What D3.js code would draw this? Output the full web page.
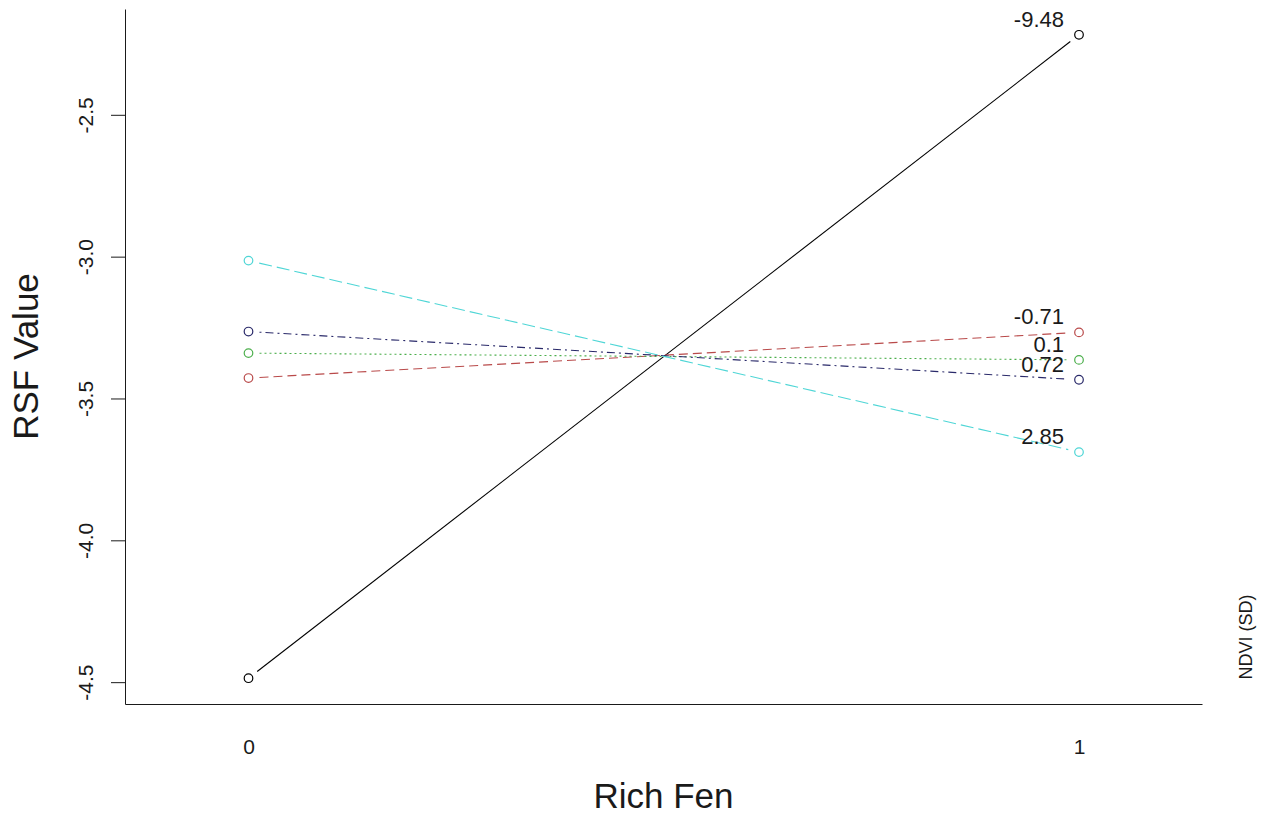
<!DOCTYPE html>
<html><head><meta charset="utf-8">
<script src="https://cdn.jsdelivr.net/npm/d3@7"></script>
<style>
html,body{margin:0;padding:0;background:#fff;}
svg{display:block;font-family:"Liberation Sans",Arial,sans-serif;}
</style></head>
<body><svg id="chart" width="1268" height="817"></svg>
<script>
// ---- data ----
const richFen = [0, 1];
const yTicks = [-4.5, -4.0, -3.5, -3.0, -2.5];
const ndviLevels = ["-9.48", "-0.71", "0.1", "0.72", "2.85"];
const rsfNdviM948 = [-4.486, -2.218];
const rsfNdviM071 = [-3.428, -3.267];
const rsfNdvi01   = [-3.340, -3.364];
const rsfNdvi072  = [-3.264, -3.434];
const rsfNdvi285  = [-3.014, -3.689];
const seriesValues = [rsfNdviM948, rsfNdviM071, rsfNdvi01, rsfNdvi072, rsfNdvi285];
const seriesColors = ["#000000", "#b94a4a", "#4caf4c", "#2a2a6a", "#4fd6d6"];
const seriesDash = [null, "9,5", "2,3", "2,4,8,4", "13,5"];

// ---- layout ----
const svg = d3.select("#chart");
const L = 125, R = 1202, T = 9, B = 704;
const x = d3.scaleLinear().domain([-0.1487, 1.1481]).range([L, R]);
const y = d3.scaleLinear().domain([-4.577, -2.127]).range([B, T]);
const ink = "#1a1a1a";

// y axis
const gy = svg.append("g").attr("transform", `translate(${L},0)`)
  .call(d3.axisLeft(y).tickValues(yTicks).tickSize(14).tickSizeOuter(0)
    .tickFormat(d => d.toFixed(1)));
gy.select(".domain").attr("stroke", ink);
gy.selectAll(".tick line").attr("stroke", ink);
gy.selectAll(".tick text")
  .attr("x", null).attr("dy", null)
  .attr("transform", "translate(-32,0) rotate(-90)")
  .attr("text-anchor", "middle")
  .attr("fill", ink)
  .style("font-size", "21px");

// x axis
const gx = svg.append("g").attr("transform", `translate(0,${B})`)
  .call(d3.axisBottom(x).tickValues(richFen).tickSize(0).tickSizeOuter(0)
    .tickFormat(d => String(d)));
gx.select(".domain").attr("stroke", ink);
gx.selectAll(".tick text")
  .attr("y", 50).attr("dy", null)
  .attr("fill", ink)
  .style("font-size", "21px");

// lines with gaps around points (type = "b")
const gap = 11;
seriesValues.forEach((vals, i) => {
  const pts = richFen.map((f, j) => [x(f), y(vals[j])]);
  for (let j = 0; j < pts.length - 1; j++) {
    const [x0, y0] = pts[j], [x1, y1] = pts[j + 1];
    const len = Math.hypot(x1 - x0, y1 - y0);
    const ux = (x1 - x0) / len, uy = (y1 - y0) / len;
    svg.append("line")
      .attr("x1", x0 + ux * gap).attr("y1", y0 + uy * gap)
      .attr("x2", x1 - ux * gap).attr("y2", y1 - uy * gap)
      .attr("stroke", seriesColors[i]).attr("stroke-width", 1.1)
      .attr("stroke-dasharray", seriesDash[i]);
  }
  svg.selectAll(null).data(pts).enter().append("circle")
    .attr("cx", d => d[0]).attr("cy", d => d[1]).attr("r", 4.3)
    .attr("fill", "none").attr("stroke", seriesColors[i]).attr("stroke-width", 1.2);
  // level label near right end
  svg.append("text")
    .attr("x", x(1) - 15).attr("y", y(vals[1]) - 8)
    .attr("text-anchor", "end").attr("fill", ink)
    .style("font-size", "22px")
    .text(ndviLevels[i]);
});

// titles
svg.append("text").attr("transform", `translate(38,${(T + B) / 2}) rotate(-90)`)
  .attr("text-anchor", "middle").attr("fill", ink).style("font-size", "35px").text("RSF Value");
svg.append("text").attr("x", (L + R) / 2).attr("y", 808)
  .attr("text-anchor", "middle").attr("fill", ink).style("font-size", "35px").text("Rich Fen");
svg.append("text").attr("transform", `translate(1252,637) rotate(-90)`)
  .attr("text-anchor", "middle").attr("fill", ink).style("font-size", "18px").text("NDVI (SD)");
</script></body></html>
